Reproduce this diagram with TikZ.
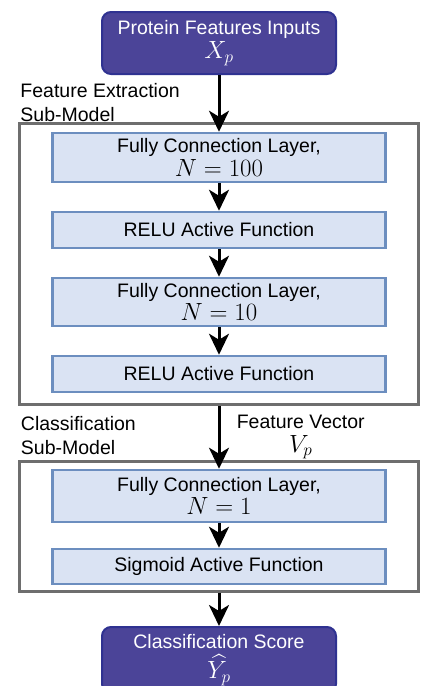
\documentclass[tikz,border=0pt]{standalone}
\usepackage{amsmath}
\usepackage{fontspec}
\newfontfamily\sansfam{Liberation Sans}
\usepackage{tikz}
\usetikzlibrary{positioning,fit}
\usetikzlibrary{arrows.meta}

\definecolor{iofill}{RGB}{75,68,152}
\definecolor{ioborder}{RGB}{47,50,145}
\definecolor{layerfill}{RGB}{218,227,243}
\definecolor{layerborder}{RGB}{108,142,191}
\definecolor{groupgray}{RGB}{110,110,110}
\newcommand{\eqsz}[1]{{\fontsize{24}{24}\selectfont$#1$}}

\begin{document}
\begin{tikzpicture}[
  x=1pt,y=1pt,
  every node/.style={font=\sansfam\fontsize{19.5}{23.5}\selectfont},
  io/.style={rectangle,draw=ioborder,fill=iofill,text=white,line width=2pt,rounded corners=9pt,minimum width=234pt,minimum height=62pt,align=center,inner sep=0pt,on grid},
  layer/.style={rectangle,draw=layerborder,fill=layerfill,line width=2.5pt,minimum width=333pt,minimum height=#1,align=center,inner sep=0pt,on grid},
  layer/.default=36pt,
  group/.style={rectangle,draw=groupgray,line width=3pt,inner xsep=31.5pt,inner ysep=0pt},
  grouplabel/.style={anchor=south west,align=left,inner sep=0pt,text depth=0pt},
  flow/.style={-{Stealth[length=21pt,width=20pt,inset=6pt]},line width=3pt},
]
\useasboundingbox (0,0) rectangle (421,-686);
\node (in) [io] at (219,-43) {Protein Features Inputs\\ \eqsz{X_p}};
\node (fc1) [layer=49pt,below=114.5pt of in] {Fully Connection Layer,\\ \eqsz{N = 100}};
\node (relu1) [layer,below=72.5pt of fc1] {RELU Active Function};
\node (fc2) [layer=48pt,below=72pt of relu1] {Fully Connection Layer,\\ \eqsz{N = 10}};
\node (relu2) [layer,below=72pt of fc2] {RELU Active Function};
\node (fc3) [layer=52pt,below=122pt of relu2] {Fully Connection Layer,\\ \eqsz{N = 1}};
\node (sig) [layer=35pt,below=70.5pt of fc3] {Sigmoid Active Function};
\node (out) [io,minimum height=66pt,below=93.5pt of sig] {Classification Score\\[5pt] \eqsz{\widehat{Y_p}}};

% sub-model frames
\node (fe) [group,fit={([yshift=8pt]fc1.north) ([yshift=-11pt]relu2.south) (fc1.west) (fc1.east)}] {};
\node (cl) [group,fit={([yshift=7pt]fc3.north) ([yshift=-6pt]sig.south) (fc3.west) (fc3.east)}] {};
\node (felabel) [grouplabel] at ([xshift=2pt,yshift=1pt]fe.north west) {Feature Extraction\\Sub-Model};
\node (cllabel) [grouplabel] at ([xshift=2.5pt,yshift=6pt]cl.north west) {Classification\\Sub-Model};

\draw[flow] (in) -- (fc1);
\draw[flow] (fc1) -- (relu1);
\draw[flow] (relu1) -- (fc2);
\draw[flow] (fc2) -- (relu2);
\draw[flow] (fe) -- node[right=13pt,align=center] {Feature Vector\\ \eqsz{V_p}} (fc3);
\draw[flow] (fc3) -- (sig);
\draw[flow] (cl) -- (out);
\end{tikzpicture}
\end{document}
